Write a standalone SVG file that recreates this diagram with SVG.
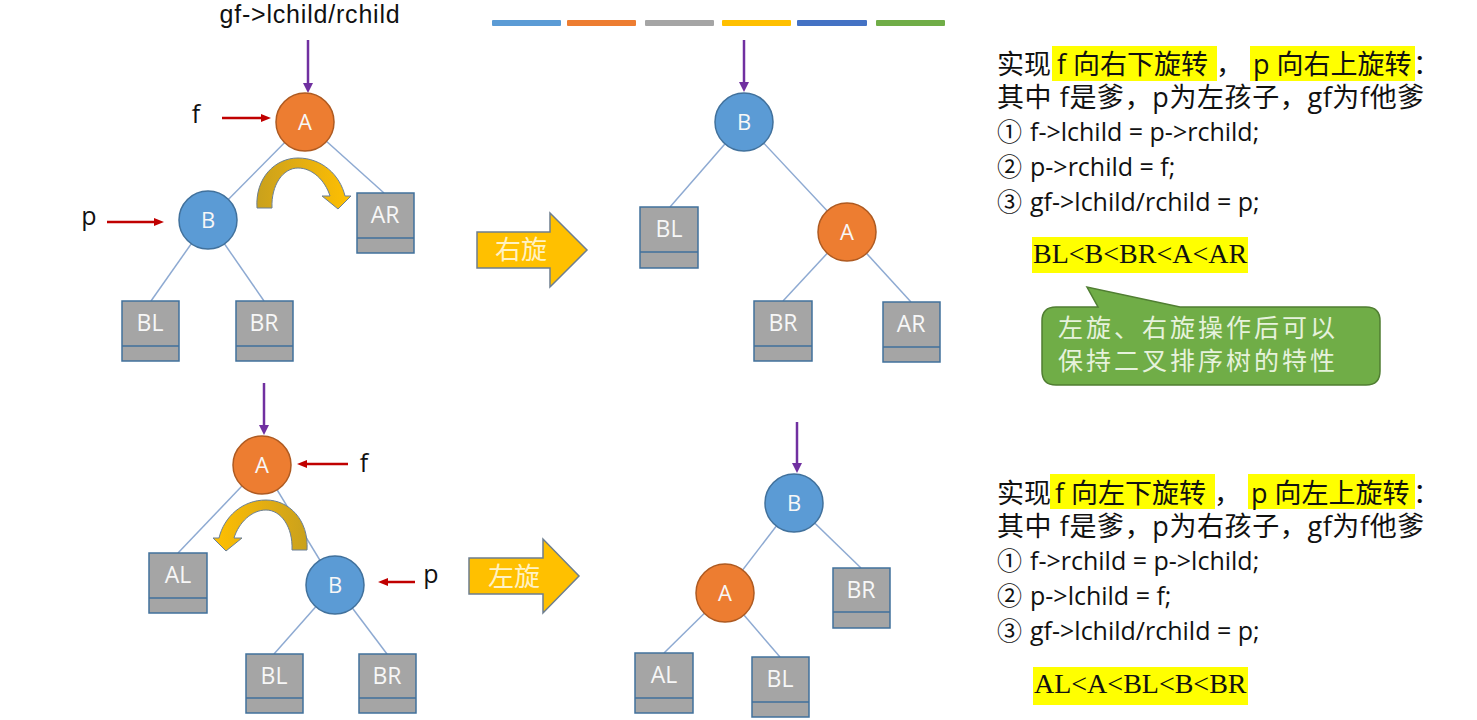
<svg xmlns="http://www.w3.org/2000/svg" width="1477" height="720" viewBox="0 0 1477 720">
<defs>
<marker id="mp" markerUnits="userSpaceOnUse" markerWidth="10" markerHeight="10" refX="3" refY="5" orient="auto"><path d="M0,0 L10,5 L0,10 Z" fill="#7030a0"/></marker>
<marker id="mr" markerUnits="userSpaceOnUse" markerWidth="10" markerHeight="8" refX="3" refY="4" orient="auto"><path d="M0,0 L10,4 L0,8 Z" fill="#c00000"/></marker>
<linearGradient id="gold" x1="0" y1="0" x2="1" y2="0">
<stop offset="0" stop-color="#c9a11c"/><stop offset="0.45" stop-color="#e3ad12"/><stop offset="1" stop-color="#ffc000"/>
</linearGradient>
<style>
.edge{stroke:#8eaad2;stroke-width:1.5;fill:none}
.pp{stroke:#7030a0;stroke-width:2.5;marker-end:url(#mp)}
.pr{stroke:#c00000;stroke-width:2.5;marker-end:url(#mr)}
.box{fill:#a5a5a5;stroke:#41719c;stroke-width:1.5}
.dv{stroke:#41719c;stroke-width:1.5}
.ca{fill:#ed7d31;stroke:#ae5a21;stroke-width:1.5}
.cb{fill:#5b9bd5;stroke:#41719c;stroke-width:1.5}
.nt{font-family:"Open Sans","Liberation Sans",sans-serif;font-size:22px;fill:#f7f7f7;text-anchor:middle}
.bt{font-family:"Open Sans","Liberation Sans",sans-serif;font-size:23px;fill:#f7f7f7;text-anchor:middle}
.lbl{font-family:"Open Sans","Liberation Sans",sans-serif;font-size:25px;fill:#111;text-anchor:middle}
.top{font-family:"Liberation Sans",sans-serif;font-size:25px;letter-spacing:0.8px;fill:#111;text-anchor:middle}
.cur{fill:url(#gold);stroke:#6a7f96;stroke-width:1}
.blk{fill:#ffc000;stroke:#6d7e8f;stroke-width:1.5}
.blkt{font-family:"Noto Sans CJK SC",sans-serif;font-size:26px;fill:#fff2c4;text-anchor:middle}
.t{font-family:"Open Sans","Noto Sans CJK SC",sans-serif;font-size:27px;fill:#111}
.w{letter-spacing:0.6px}
.code{font-size:25px}
.hl{fill:#ffff00}
.ord{font-family:"Liberation Serif",serif;font-size:28px;fill:#111}
.call{fill:#70ad47;stroke:#507e32;stroke-width:1.5}
.callt{font-family:"Noto Sans CJK SC",sans-serif;font-size:25px;letter-spacing:3px;fill:#e6f2dc}
</style>
</defs>
<rect width="1477" height="720" fill="#ffffff"/>

<g id="colorbar">
<rect x="492" y="20" width="69" height="6" rx="1" fill="#5b9bd5"/>
<rect x="567" y="20" width="69" height="6" rx="1" fill="#ed7d31"/>
<rect x="645" y="20" width="69" height="6" rx="1" fill="#a5a5a5"/>
<rect x="722" y="20" width="69" height="6" rx="1" fill="#ffc000"/>
<rect x="797" y="20" width="70" height="6" rx="1" fill="#4472c4"/>
<rect x="876" y="20" width="69" height="6" rx="1" fill="#70ad47"/>
</g>

<g id="connectors">
<line class="edge" x1="305" y1="122" x2="208" y2="220"/>
<line class="edge" x1="305" y1="122" x2="384" y2="193"/>
<line class="edge" x1="208" y1="220" x2="151" y2="301"/>
<line class="edge" x1="208" y1="220" x2="264" y2="301"/>
<line class="edge" x1="744" y1="122" x2="670" y2="207"/>
<line class="edge" x1="744" y1="122" x2="847" y2="232"/>
<line class="edge" x1="847" y1="232" x2="783" y2="301"/>
<line class="edge" x1="847" y1="232" x2="911" y2="302"/>
<line class="edge" x1="262" y1="465" x2="178" y2="553"/>
<line class="edge" x1="262" y1="465" x2="335" y2="585"/>
<line class="edge" x1="335" y1="585" x2="274" y2="654"/>
<line class="edge" x1="335" y1="585" x2="387" y2="654"/>
<line class="edge" x1="794" y1="503" x2="725" y2="593"/>
<line class="edge" x1="794" y1="503" x2="861" y2="568"/>
<line class="edge" x1="725" y1="593" x2="664" y2="653"/>
<line class="edge" x1="725" y1="593" x2="780" y2="657"/>
<line class="pp" x1="308" y1="40" x2="308" y2="86"/>
<line class="pr" x1="222" y1="118" x2="264" y2="118"/>
<line class="pr" x1="107" y1="222" x2="157" y2="222"/>
<line class="pp" x1="744" y1="40" x2="744" y2="85"/>
<line class="pp" x1="264" y1="383" x2="264" y2="428"/>
<line class="pr" x1="348" y1="464" x2="304" y2="464"/>
<line class="pr" x1="415" y1="582" x2="385" y2="582"/>
<line class="pp" x1="797" y1="422" x2="797" y2="466"/>
</g>

<g id="labels-left">
<text class="top" x="310" y="23">gf-&gt;lchild/rchild</text>
<text class="lbl" x="196" y="123">f</text>
<text class="lbl" x="89" y="225">p</text>
<text class="lbl" x="364" y="472">f</text>
<text class="lbl" x="431" y="583">p</text>
</g>

<g id="rot-arrow-top"><path class="cur" d="M257 208 C255 178 275 158 298 158 C322 158 340 175 345 196 L351 196 L338 209 L322 196 L330 196 C325 180 312 168 298 168 C283 168 271 185 272 208 Z"/></g>
<g id="rot-arrow-bottom"><path class="cur" transform="translate(564,342) scale(-1,1)" d="M257 208 C255 178 275 158 298 158 C322 158 340 175 345 196 L351 196 L338 209 L322 196 L330 196 C325 180 312 168 298 168 C283 168 271 185 272 208 Z"/></g>

<g id="tl-A"><circle class="ca" cx="305" cy="122" r="29"/><text class="nt" x="305" y="130">A</text></g>
<g id="tl-B"><circle class="cb" cx="208" cy="220" r="29"/><text class="nt" x="208" y="228">B</text></g>
<g id="tl-AR"><rect class="box" x="357" y="193" width="57" height="60"/><line class="dv" x1="357" y1="238" x2="414" y2="238"/><text class="bt" x="385" y="223">AR</text></g>
<g id="tl-BL"><rect class="box" x="122" y="301" width="57" height="60"/><line class="dv" x1="122" y1="346" x2="179" y2="346"/><text class="bt" x="150" y="331">BL</text></g>
<g id="tl-BR"><rect class="box" x="236" y="301" width="57" height="60"/><line class="dv" x1="236" y1="346" x2="293" y2="346"/><text class="bt" x="264" y="331">BR</text></g>

<g id="tm-B"><circle class="cb" cx="744" cy="122" r="29"/><text class="nt" x="744" y="130">B</text></g>
<g id="tm-A"><circle class="ca" cx="847" cy="232" r="29"/><text class="nt" x="847" y="240">A</text></g>
<g id="tm-BL"><rect class="box" x="640" y="207" width="58" height="61"/><line class="dv" x1="640" y1="252" x2="698" y2="252"/><text class="bt" x="669" y="237">BL</text></g>
<g id="tm-BR"><rect class="box" x="754" y="301" width="58" height="60"/><line class="dv" x1="754" y1="346" x2="812" y2="346"/><text class="bt" x="783" y="331">BR</text></g>
<g id="tm-AR"><rect class="box" x="883" y="302" width="57" height="60"/><line class="dv" x1="883" y1="347" x2="940" y2="347"/><text class="bt" x="911" y="332">AR</text></g>

<g id="bl-A"><circle class="ca" cx="262" cy="465" r="29"/><text class="nt" x="262" y="473">A</text></g>
<g id="bl-B"><circle class="cb" cx="335" cy="585" r="29"/><text class="nt" x="335" y="593">B</text></g>
<g id="bl-AL"><rect class="box" x="149" y="553" width="58" height="60"/><line class="dv" x1="149" y1="598" x2="207" y2="598"/><text class="bt" x="178" y="583">AL</text></g>
<g id="bl-BL"><rect class="box" x="246" y="654" width="57" height="59"/><line class="dv" x1="246" y1="698" x2="303" y2="698"/><text class="bt" x="274" y="684">BL</text></g>
<g id="bl-BR"><rect class="box" x="359" y="654" width="57" height="59"/><line class="dv" x1="359" y1="698" x2="416" y2="698"/><text class="bt" x="387" y="684">BR</text></g>

<g id="bm-B"><circle class="cb" cx="794" cy="503" r="29"/><text class="nt" x="794" y="511">B</text></g>
<g id="bm-A"><circle class="ca" cx="725" cy="593" r="29"/><text class="nt" x="725" y="601">A</text></g>
<g id="bm-BR"><rect class="box" x="833" y="568" width="57" height="60"/><line class="dv" x1="833" y1="612" x2="890" y2="612"/><text class="bt" x="861" y="598">BR</text></g>
<g id="bm-AL"><rect class="box" x="635" y="653" width="58" height="60"/><line class="dv" x1="635" y1="698" x2="693" y2="698"/><text class="bt" x="664" y="683">AL</text></g>
<g id="bm-BL"><rect class="box" x="752" y="657" width="57" height="60"/><line class="dv" x1="752" y1="702" x2="809" y2="702"/><text class="bt" x="780" y="687">BL</text></g>

<g id="arrow-right-rot"><path class="blk" d="M477 232 L550 232 L550 213 L587 250 L550 287 L550 268 L477 268 Z"/><text class="blkt" x="521" y="259">右旋</text></g>
<g id="arrow-left-rot"><path class="blk" d="M469 558 L543 558 L543 539 L579 576 L543 613 L543 594 L469 594 Z"/><text class="blkt" x="514" y="586">左旋</text></g>

<g id="text-top">
<rect class="hl" x="1052" y="46" width="165" height="35"/>
<rect class="hl" x="1250" y="46" width="165" height="35"/>
<text class="t"><tspan x="997" y="74">实现</tspan><tspan x="1057" y="74">f 向右下旋转</tspan><tspan x="1216" y="74">，</tspan><tspan x="1253" y="74">p 向右上旋转</tspan><tspan x="1413" y="74">：</tspan><tspan class="w" x="997" y="107">其中 f是爹，p为左孩子，gf为f他爹</tspan><tspan class="code" x="997" y="141">①</tspan><tspan class="code" x="1030" y="141">f-&gt;lchild = p-&gt;rchild;</tspan><tspan class="code" x="997" y="176">②</tspan><tspan class="code" x="1030" y="176">p-&gt;rchild = f;</tspan><tspan class="code" x="997" y="211">③</tspan><tspan class="code" x="1030" y="211">gf-&gt;lchild/rchild = p;</tspan></text>
<rect class="hl" x="1032" y="237" width="216" height="36"/>
<text class="ord" x="1033" y="263">BL&lt;B&lt;BR&lt;A&lt;AR</text>
</g>

<g id="callout">
<path class="call" d="M1056 307 L1098 307 L1087 287 L1180 307 L1366 307 Q1380 307 1380 321 L1380 371 Q1380 385 1366 385 L1056 385 Q1042 385 1042 371 L1042 321 Q1042 307 1056 307 Z"/>
<text class="callt"><tspan x="1058" y="337">左旋、右旋操作后可以</tspan><tspan x="1058" y="370">保持二叉排序树的特性</tspan></text>
</g>

<g id="text-bottom">
<rect class="hl" x="1050" y="474" width="165" height="35"/>
<rect class="hl" x="1248" y="474" width="167" height="35"/>
<text class="t"><tspan x="997" y="503">实现</tspan><tspan x="1055" y="503">f 向左下旋转</tspan><tspan x="1214" y="503">，</tspan><tspan x="1251" y="503">p 向左上旋转</tspan><tspan x="1413" y="503">：</tspan><tspan class="w" x="997" y="536">其中 f是爹，p为右孩子，gf为f他爹</tspan><tspan class="code" x="997" y="570">①</tspan><tspan class="code" x="1030" y="570">f-&gt;rchild = p-&gt;lchild;</tspan><tspan class="code" x="997" y="605">②</tspan><tspan class="code" x="1030" y="605">p-&gt;lchild = f;</tspan><tspan class="code" x="997" y="640">③</tspan><tspan class="code" x="1030" y="640">gf-&gt;lchild/rchild = p;</tspan></text>
<rect class="hl" x="1033" y="667" width="215" height="38"/>
<text class="ord" x="1034" y="693">AL&lt;A&lt;BL&lt;B&lt;BR</text>
</g>
</svg>
